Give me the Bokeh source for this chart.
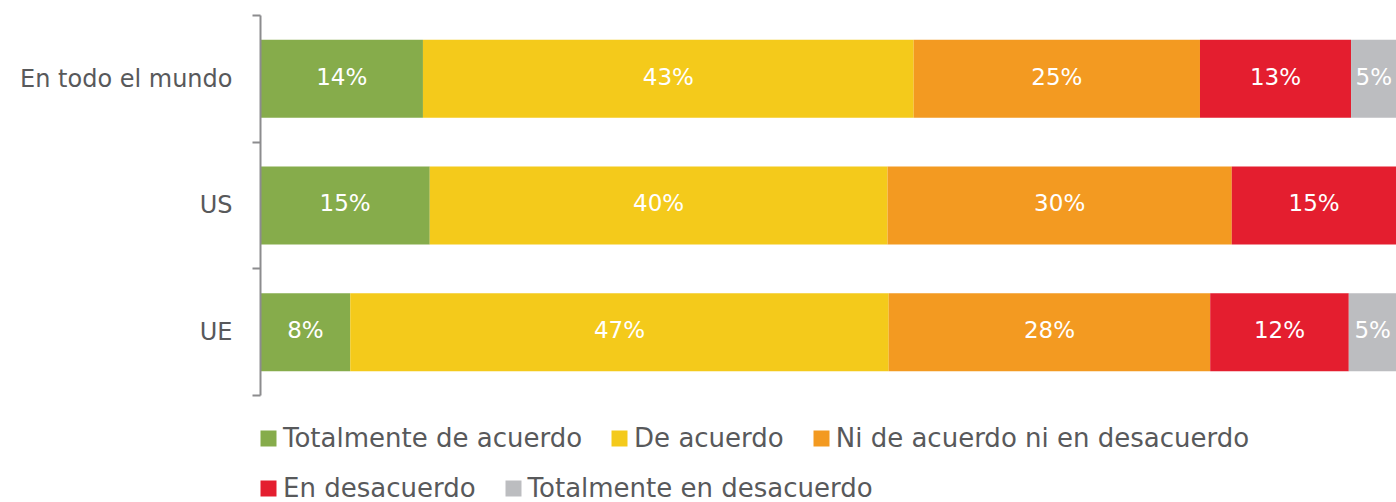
from bokeh.plotting import figure
from bokeh.models import Range1d, FixedTicker, Legend, LegendItem, ColumnDataSource
from bokeh.core.properties import value
from bokeh.embed import file_html
from bokeh.resources import INLINE

categories = ["En todo el mundo", "US", "UE"]
series = ["Totalmente de acuerdo", "De acuerdo", "Ni de acuerdo ni en desacuerdo",
          "En desacuerdo", "Totalmente en desacuerdo"]
colors = ["#86AC4B", "#F4CA1B", "#F39A21", "#E41E2F", "#BCBDC0"]

# values per series, per category (En todo el mundo, US, UE)
totalmente_de_acuerdo = [14.3, 14.9, 7.9]
de_acuerdo = [43.2, 40.3, 47.4]
ni_ni = [25.2, 30.3, 28.3]
en_desacuerdo = [13.3, 14.5, 12.2]
totalmente_en_desacuerdo = [4.0, 0.0, 4.2]

# printed labels
labels_td = ["14%", "15%", "8%"]
labels_da = ["43%", "40%", "47%"]
labels_ni = ["25%", "30%", "28%"]
labels_ed = ["13%", "15%", "12%"]
labels_ted = ["5%", "", "5%"]

vals = [totalmente_de_acuerdo, de_acuerdo, ni_ni, en_desacuerdo, totalmente_en_desacuerdo]
labs = [labels_td, labels_da, labels_ni, labels_ed, labels_ted]

FONT = "DejaVu Sans"
TXT = "#58595B"

p = figure(width=1396, height=502, output_backend="svg", toolbar_location=None,
           x_range=Range1d(0, 100), y_range=Range1d(-0.845, 3),
           min_border_left=260, min_border_right=0, min_border_top=15, min_border_bottom=0)
p.outline_line_color = None
p.xgrid.visible = False
p.ygrid.visible = False
p.xaxis.visible = False
p.background_fill_color = "white"
p.border_fill_color = "white"

ypos = [2.5 - i for i in range(len(categories))]

renderers = []
left = [0.0] * len(categories)
for s, v, lab, c in zip(series, vals, labs, colors):
    right = [l + x for l, x in zip(left, v)]
    src = ColumnDataSource(dict(y=ypos, left=left, right=right,
                                mid=[(l + min(r, 100)) / 2 for l, r in zip(left, right)],
                                lab=lab))
    r = p.hbar(y="y", left="left", right="right", height=0.616, source=src,
               fill_color=c, line_color=None)
    renderers.append(r)
    p.text(x="mid", y="y", text="lab", source=src, text_color="white",
           text_font=value(FONT), text_font_size="23px", text_align="center",
           text_baseline="middle", y_offset=-2)
    left = right

yax = p.yaxis[0]
yax.bounds = (0, 3)
yax.ticker = FixedTicker(ticks=ypos, minor_ticks=[0, 1, 2, 3])
yax.major_label_overrides = {y: c for y, c in zip(ypos, categories)}
yax.major_tick_out = 0
yax.major_tick_in = 0
yax.minor_tick_out = 8
yax.minor_tick_in = 0
yax.minor_tick_line_color = "#8C8C8E"
yax.minor_tick_line_width = 2
yax.axis_line_color = "#8C8C8E"
yax.axis_line_width = 2
yax.major_label_standoff = 20
yax.major_label_text_font = FONT
yax.major_label_text_font_size = "24px"
yax.major_label_text_color = TXT

def make_legend(idx, loc):
    lg = Legend(items=[LegendItem(label=series[i], renderers=[renderers[i]]) for i in idx],
                orientation="horizontal", location=loc,
                glyph_width=20, glyph_height=20, label_standoff=5, spacing=27,
                padding=0, margin=0, border_line_color=None, background_fill_alpha=0,
                label_text_font=FONT, label_text_font_size="26px", label_text_color=TXT,
                label_height=28)
    return lg

p.add_layout(make_legend([0, 1, 2], (-2, 49)), "center")
p.add_layout(make_legend([3, 4], (-2, -1)), "center")

open("out.html", "w").write(file_html(p, INLINE))
